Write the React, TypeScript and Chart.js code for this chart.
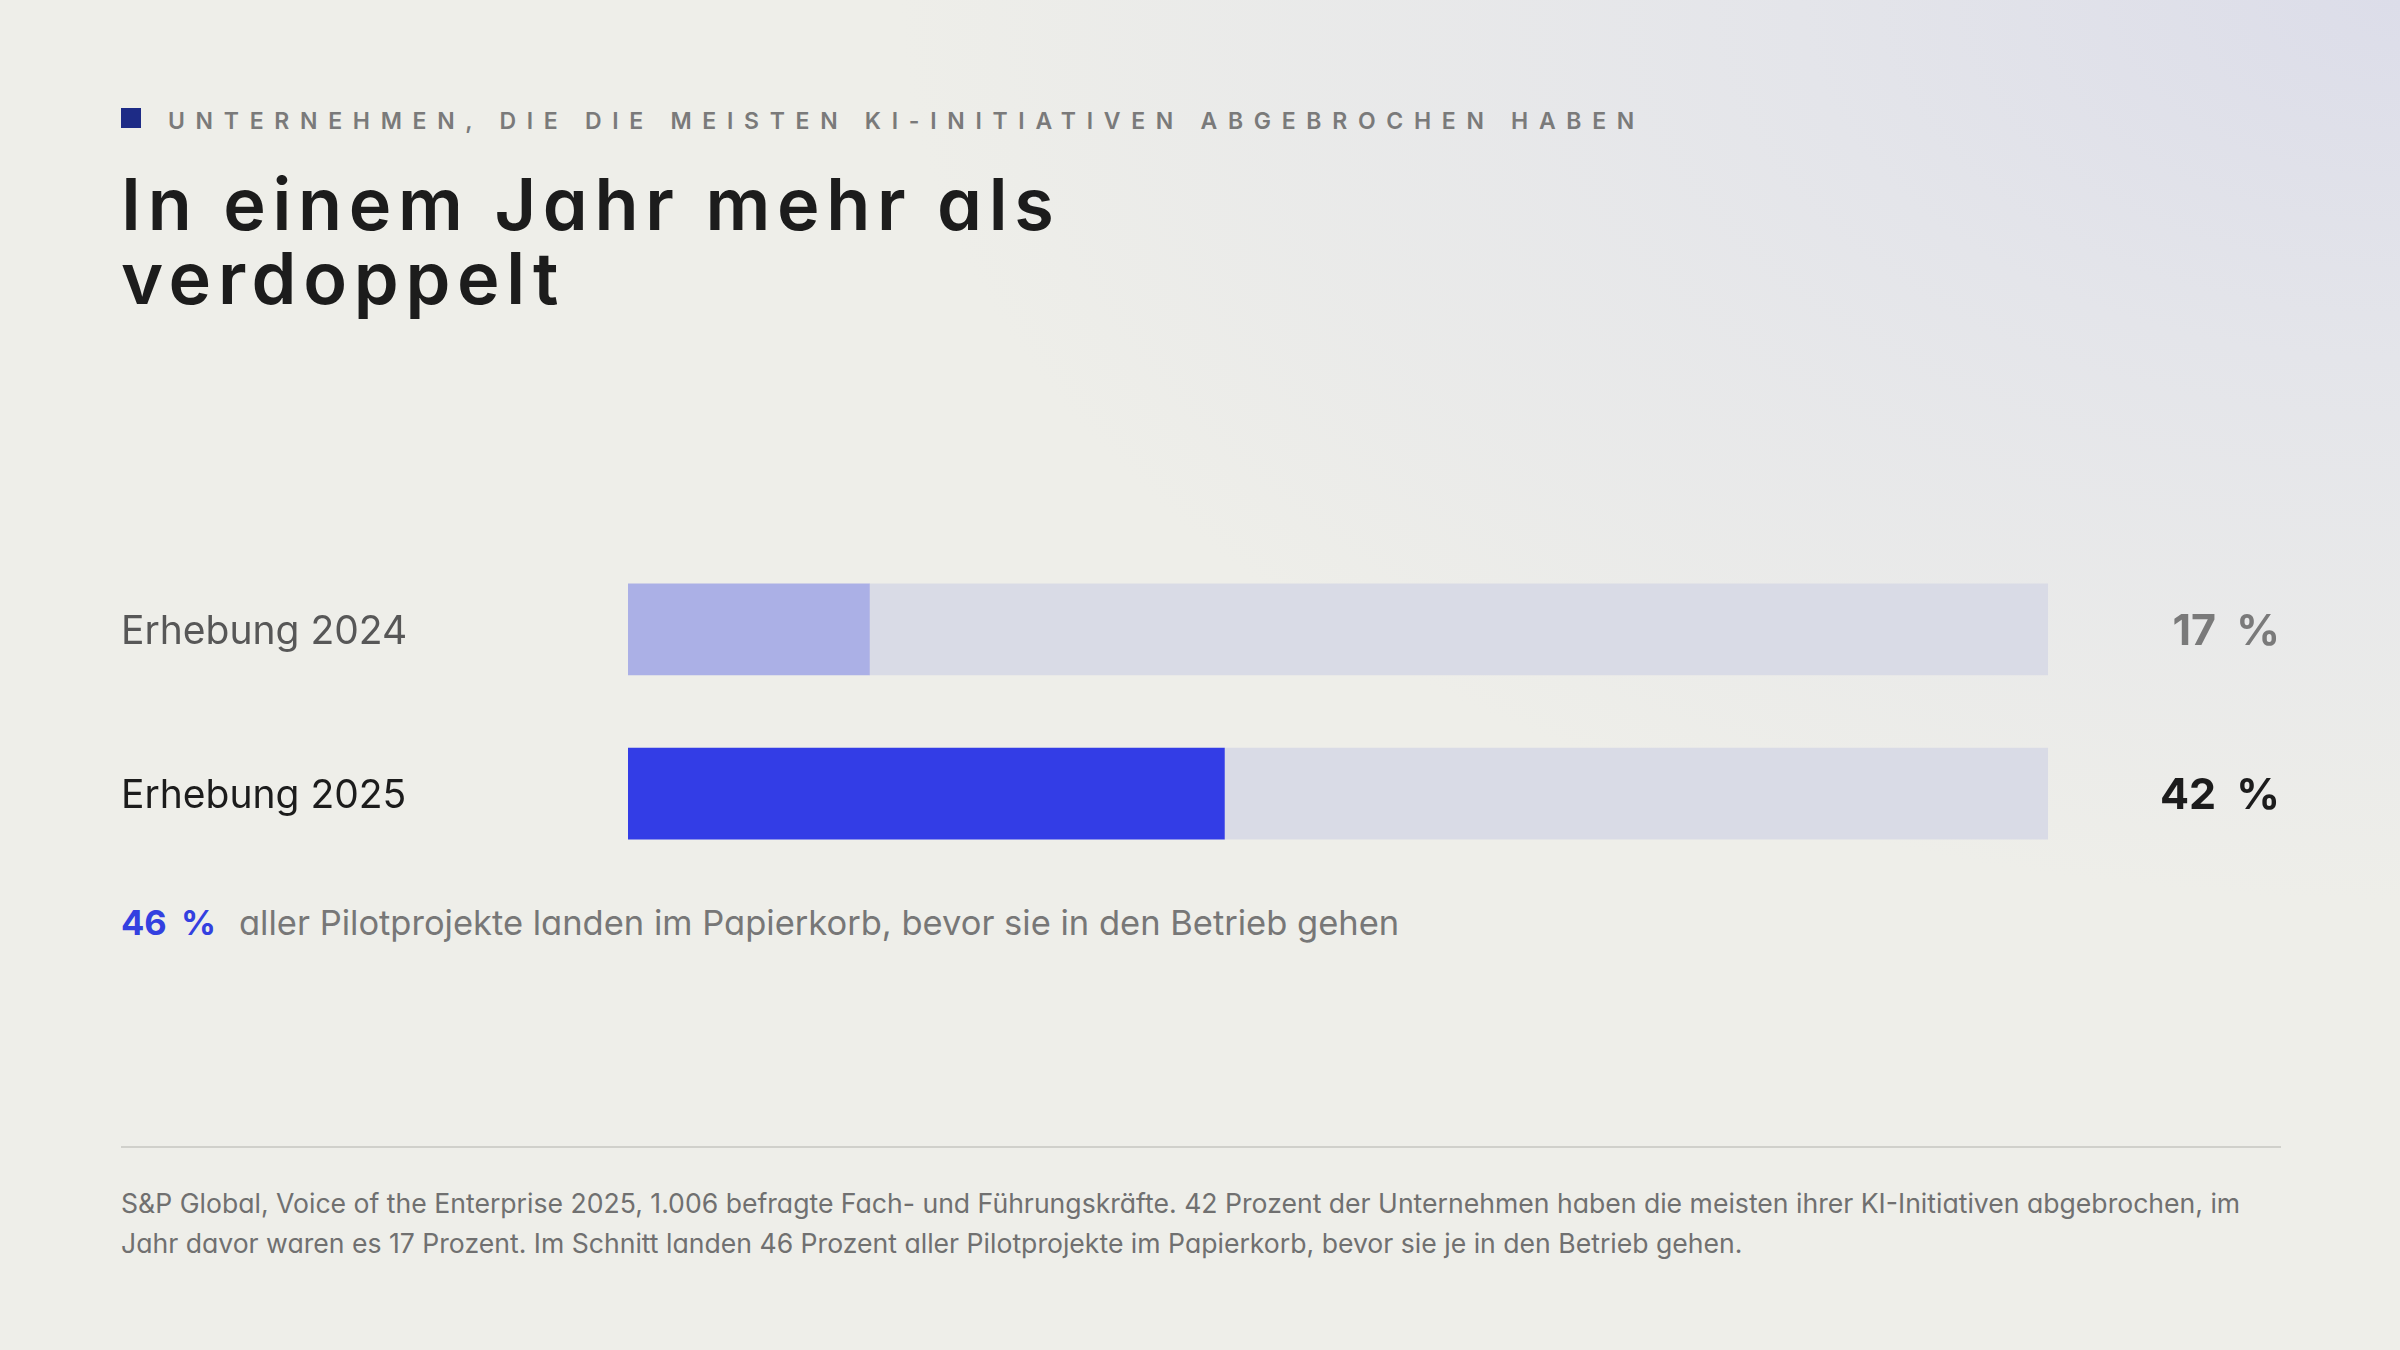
import { useEffect, useRef } from 'react';
import { Chart, registerables, type Plugin } from 'chart.js';

Chart.register(...registerables);

const categories = ['Erhebung 2024', 'Erhebung 2025'];
const shares = [17, 42];
const barColors = ['#abb0e6', '#333de6'];
const labelColors = ['#575757', '#1c1c1c'];
const valueColors = ['#7a7a7a', '#1c1c1c'];
const trackColor = '#d9dbe6';

const FONT = 'Inter, "Noto Sans", sans-serif';

// right-aligned "17 %" labels next to each track
const valueLabels: Plugin<'bar'> = {
  id: 'valueLabels',
  afterDatasetsDraw(chart) {
    const { ctx, chartArea } = chart;
    const meta = chart.getDatasetMeta(0);
    ctx.save();
    ctx.textAlign = 'right';
    ctx.textBaseline = 'middle';
    ctx.font = `700 43px ${FONT}`;
    meta.data.forEach((bar, i) => {
      ctx.fillStyle = valueColors[i];
      ctx.fillText(`${shares[i]}\u2009\u2009\u2009%`, chartArea.right + 232, bar.y + 3);
    });
    ctx.restore();
  },
};

function BarChart() {
  const canvasRef = useRef<HTMLCanvasElement>(null);

  useEffect(() => {
    const canvas = canvasRef.current;
    if (!canvas) return;
    const chart = new Chart(canvas, {
      type: 'bar',
      data: {
        labels: categories,
        datasets: [
          { data: shares, backgroundColor: barColors, barThickness: 91, borderWidth: 0 },
          { data: shares.map((v) => 100 - v), backgroundColor: trackColor, barThickness: 91, borderWidth: 0 },
        ],
      },
      options: {
        indexAxis: 'y',
        responsive: true,
        maintainAspectRatio: false,
        animation: false,
        layout: { padding: { right: 233, top: 0, bottom: 0, left: 0 } },
        plugins: { legend: { display: false }, tooltip: { enabled: false } },
        scales: {
          x: { stacked: true, min: 0, max: 100, display: false },
          y: {
            stacked: true,
            grid: { display: false },
            border: { display: false },
            afterFit: (scale) => {
              scale.width = 507;
            },
            ticks: {
              crossAlign: 'far',
              padding: 0,
              labelOffset: 3,
              color: (c) => labelColors[c.index] ?? '#555',
              font: { family: FONT, size: 39, weight: 400 },
            },
          },
        },
      },
      plugins: [valueLabels],
    });
    return () => chart.destroy();
  }, []);

  return (
    <div style={{ position: 'absolute', left: 121, top: 524, width: 2160, height: 375 }}>
      <canvas ref={canvasRef} />
    </div>
  );
}

export default function App() {
  return (
    <div
      style={{
        position: 'absolute',
        left: 0,
        top: 0,
        width: 2400,
        height: 1350,
        overflow: 'hidden',
        fontFamily: FONT,
        fontFeatureSettings: '"cv11"',
        background:
          'radial-gradient(ellipse 1500px 900px at 100% 0%, #dcdde9 0%, #e4e5ea 40%, rgba(238,238,233,0) 100%), #eeeee9',
      }}
    >
      <div style={{ position: 'absolute', left: 121, top: 108, width: 20, height: 20, background: '#1d2b86' }} />
      <div
        style={{
          position: 'absolute',
          left: 168,
          top: 106,
          lineHeight: '30px',
          fontSize: 23,
          fontWeight: 600,
          letterSpacing: '10.7px',
          color: '#7a7a7a',
          whiteSpace: 'nowrap',
        }}
      >
        UNTERNEHMEN, DIE DIE MEISTEN KI-INITIATIVEN ABGEBROCHEN HABEN
      </div>
      <div
        style={{
          position: 'absolute',
          left: 121,
          top: 167,
          lineHeight: '74px',
          fontSize: 72,
          fontWeight: 600,
          letterSpacing: '6.7px',
          color: '#1c1c1c',
          whiteSpace: 'nowrap',
        }}
      >
        In einem Jahr mehr als
        <br />
        verdoppelt
      </div>

      <BarChart />

      <div
        style={{
          position: 'absolute',
          left: 121,
          top: 903,
          lineHeight: '40px',
          fontSize: 34.5,
          color: '#777',
          whiteSpace: 'nowrap',
        }}
      >
        <span style={{ color: '#3340e0', fontWeight: 700, display: 'inline-block', width: 118, wordSpacing: 6 }}>
          46 %
        </span>
        aller Pilotprojekte landen im Papierkorb, bevor sie in den Betrieb gehen
      </div>

      <div style={{ position: 'absolute', left: 121, top: 1146, width: 2160, height: 2, background: '#d0d0cb' }} />

      <div
        style={{
          position: 'absolute',
          left: 121,
          top: 1183,
          width: 2240,
          lineHeight: '40px',
          fontSize: 26.6,
          color: '#707070',
          whiteSpace: 'nowrap',
        }}
      >
        S&amp;P Global, Voice of the Enterprise 2025, 1.006 befragte Fach- und Führungskräfte. 42 Prozent der Unternehmen
        haben die meisten ihrer KI-Initiativen abgebrochen, im
        <br />
        Jahr davor waren es 17 Prozent. Im Schnitt landen 46 Prozent aller Pilotprojekte im Papierkorb, bevor sie je in den
        Betrieb gehen.
      </div>
    </div>
  );
}
